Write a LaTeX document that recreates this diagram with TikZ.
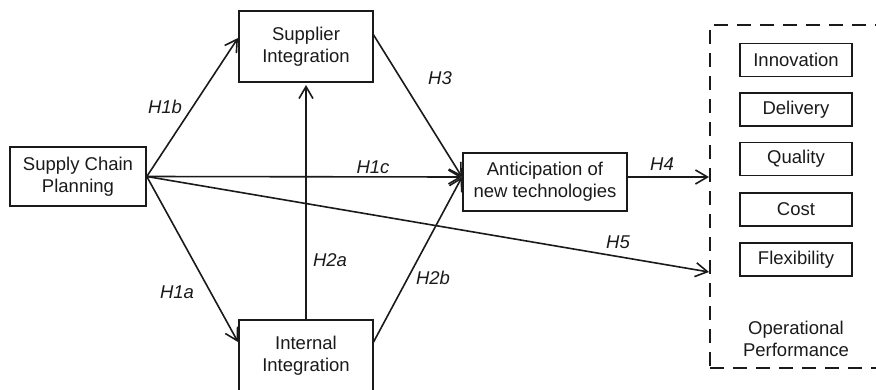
\documentclass[tikz,border=0pt]{standalone}
\usepackage{fontspec}
\setmainfont{Liberation Sans}
\usetikzlibrary{arrows.meta}
\definecolor{ink}{HTML}{1A1A1A}
\begin{document}
\begin{tikzpicture}[x=1pt,y=-1pt,
  box/.style={draw=ink,line width=1.6pt,inner sep=0pt,align=center,text=ink,
    font=\fontsize{18.5}{22}\selectfont},
  perfbox/.style={box,minimum width=112pt,minimum height=33pt},
  hyp/.style={text=ink,font=\fontsize{18.5}{22}\selectfont\itshape,inner sep=0pt},
  link/.style={draw=ink,line width=1.6pt,-{Straight Barb[length=12pt,width=14pt,line width=1.6pt]}}
]
\useasboundingbox (0,0) rectangle (876,389);

% constructs
\node[box,minimum width=136pt,minimum height=59pt] (scp) at (78,176.5) {Supply Chain\\Planning};
\node[box,minimum width=134pt,minimum height=71pt] (sup) at (306,46.5) {Supplier\\Integration};
\node[box,minimum width=134pt,minimum height=71pt] (int) at (306,355.5) {Internal\\Integration};
\node[box,minimum width=164pt,minimum height=58pt] (ant) at (545,182) {Anticipation of\\new technologies};

% operational performance group
\node[draw=ink,line width=2.4pt,dash pattern=on 14pt off 9pt,minimum width=240pt,minimum height=343pt,inner sep=0pt] (perf) at (830,196.5) {};
\node[perfbox] (inno) at (796,60) {Innovation};
\node[perfbox] (deli) at (796,109.5) {Delivery};
\node[perfbox] (qual) at (796,159) {Quality};
\node[perfbox] (cost) at (796,209.5) {Cost};
\node[perfbox] (flex) at (796,259.5) {Flexibility};
\node[align=center,text=ink,font=\fontsize{18.5}{22}\selectfont,inner sep=0pt] (oplabel) at (796,339) {Operational\\Performance};

% arrow end points
\coordinate (supin) at (238,38);
\coordinate (intin) at (238,342);
\coordinate (antin) at (462,177);
\coordinate (supout) at (373,34);
\coordinate (intout) at (373,343);
\coordinate (supbot) at (306,85);
\coordinate (intop) at (306,320);
\coordinate (antout) at (627,177);
\coordinate (perfh4) at (709,177);
\coordinate (perfh5) at (709,272);

% hypothesised paths
\draw[link] (scp.east) -- (supin);
\draw[link] (scp.east) -- (intin);
\draw[link] (scp.east) -- (antin);
\draw[link] (scp.east) -- (perfh5);
\draw[link] (intop) -- (supbot);
\draw[link] (supout) -- (antin);
\draw[link] (intout) -- (antin);
\draw[link] (antout) -- (perfh4);

% path labels
\node[hyp] (l1b) at (165,107) {H1b};
\node[hyp] (l1a) at (177,292) {H1a};
\node[hyp] (l1c) at (373,167) {H1c};
\node[hyp] (l2a) at (330,260) {H2a};
\node[hyp] (l2b) at (433,278) {H2b};
\node[hyp] (l3) at (440,78) {H3};
\node[hyp] (l4) at (662,164) {H4};
\node[hyp] (l5) at (618,242) {H5};
\end{tikzpicture}
\end{document}
